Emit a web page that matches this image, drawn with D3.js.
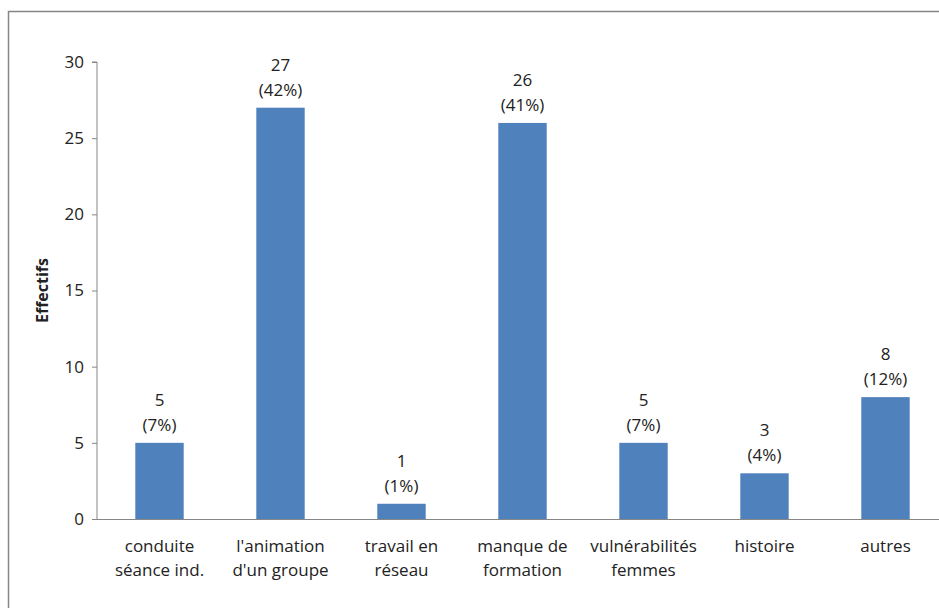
<!DOCTYPE html>
<html>
<head>
<meta charset="utf-8">
<script src="https://cdn.jsdelivr.net/npm/d3@7"></script>
<style>
  body { margin: 0; background: #fff; }
  svg { display: block; }
  text { font-family: "Open Sans", "Liberation Sans", sans-serif; fill: #222; }
</style>
</head>
<body>
<div id="chart"></div>
<script>
const categories = [
  ["conduite", "séance ind."],
  ["l'animation", "d'un groupe"],
  ["travail en", "réseau"],
  ["manque de", "formation"],
  ["vulnérabilités", "femmes"],
  ["histoire"],
  ["autres"]
];
const values = [5, 27, 1, 26, 5, 3, 8];
const percents = ["7%", "42%", "1%", "41%", "7%", "4%", "12%"];
const yTicks = [0, 5, 10, 15, 20, 25, 30];

const WIDTH = 939;
const HEIGHT = 608;
const LEFT = 97;
const RIGHT = 944;
const TOP = 62;
const BOTTOM = 519;

const svg = d3.select('#chart')
  .append('svg')
  .attr('width', WIDTH)
  .attr('height', HEIGHT);

// outer frame (runs off the right and bottom edges)
svg.append('rect')
  .attr('x', 8.5)
  .attr('y', 11.5)
  .attr('width', 940)
  .attr('height', 610)
  .attr('fill', 'none')
  .attr('stroke', '#868686')
  .attr('stroke-width', 1.5);

const idx = d3.range(values.length);

const X_SCALE = d3.scaleBand()
  .domain(idx)
  .range([LEFT + 2, RIGHT + 2])
  .paddingInner(0.6)
  .paddingOuter(0.3);

const Y_SCALE = d3.scaleLinear()
  .domain([0, 30])
  .range([BOTTOM, TOP]);

// y axis
const yAxis = svg.append('g')
  .attr('transform', 'translate(' + LEFT + ',0)')
  .call(d3.axisLeft(Y_SCALE).tickValues(yTicks).tickSize(5).tickPadding(8));
yAxis.select('.domain').attr('stroke', '#868686').attr('d', 'M-5,' + TOP + 'H0V' + BOTTOM);
yAxis.selectAll('.tick line').attr('stroke', '#868686');
yAxis.selectAll('.tick text')
  .attr('font-size', '17px')
  .attr('font-family', '"Open Sans", sans-serif')
  .attr('fill', '#222');

// x axis line
svg.append('line')
  .attr('x1', LEFT)
  .attr('x2', WIDTH)
  .attr('y1', BOTTOM + 0.5)
  .attr('y2', BOTTOM + 0.5)
  .attr('stroke', '#868686');

// bars
svg.selectAll('rect.bar')
  .data(idx)
  .enter()
  .append('rect')
  .attr('class', 'bar')
  .attr('x', (i) => X_SCALE(i))
  .attr('y', (i) => Y_SCALE(values[i]))
  .attr('width', X_SCALE.bandwidth())
  .attr('height', (i) => BOTTOM - Y_SCALE(values[i]))
  .attr('fill', '#4F81BD');

// value labels
const lbl = svg.selectAll('g.lbl')
  .data(idx)
  .enter()
  .append('g')
  .attr('class', 'lbl')
  .attr('transform', (i) => 'translate(' + (X_SCALE(i) + X_SCALE.bandwidth() / 2) + ',' + Y_SCALE(values[i]) + ')');
lbl.append('text')
  .attr('y', -37)
  .attr('text-anchor', 'middle')
  .attr('font-size', '17px')
  .text((i) => values[i]);
lbl.append('text')
  .attr('y', -12)
  .attr('text-anchor', 'middle')
  .attr('font-size', '17px')
  .text((i) => '(' + percents[i] + ')');

// category labels
const cat = svg.selectAll('text.cat')
  .data(idx)
  .enter()
  .append('text')
  .attr('class', 'cat')
  .attr('text-anchor', 'middle')
  .attr('font-size', '17px')
  .attr('x', (i) => X_SCALE(i) + X_SCALE.bandwidth() / 2)
  .attr('y', 552);
cat.selectAll('tspan')
  .data((i) => categories[i].map((t) => ({ t: t, x: X_SCALE(i) + X_SCALE.bandwidth() / 2 })))
  .enter()
  .append('tspan')
  .attr('x', (d) => d.x)
  .attr('dy', (d, j) => j === 0 ? 0 : 24)
  .text((d) => d.t);

// y title
svg.append('text')
  .attr('transform', 'translate(48,' + ((TOP + BOTTOM) / 2) + ') rotate(-90)')
  .attr('text-anchor', 'middle')
  .attr('font-size', '16px')
  .attr('font-weight', 'bold')
  .text('Effectifs');
</script>
</body>
</html>
